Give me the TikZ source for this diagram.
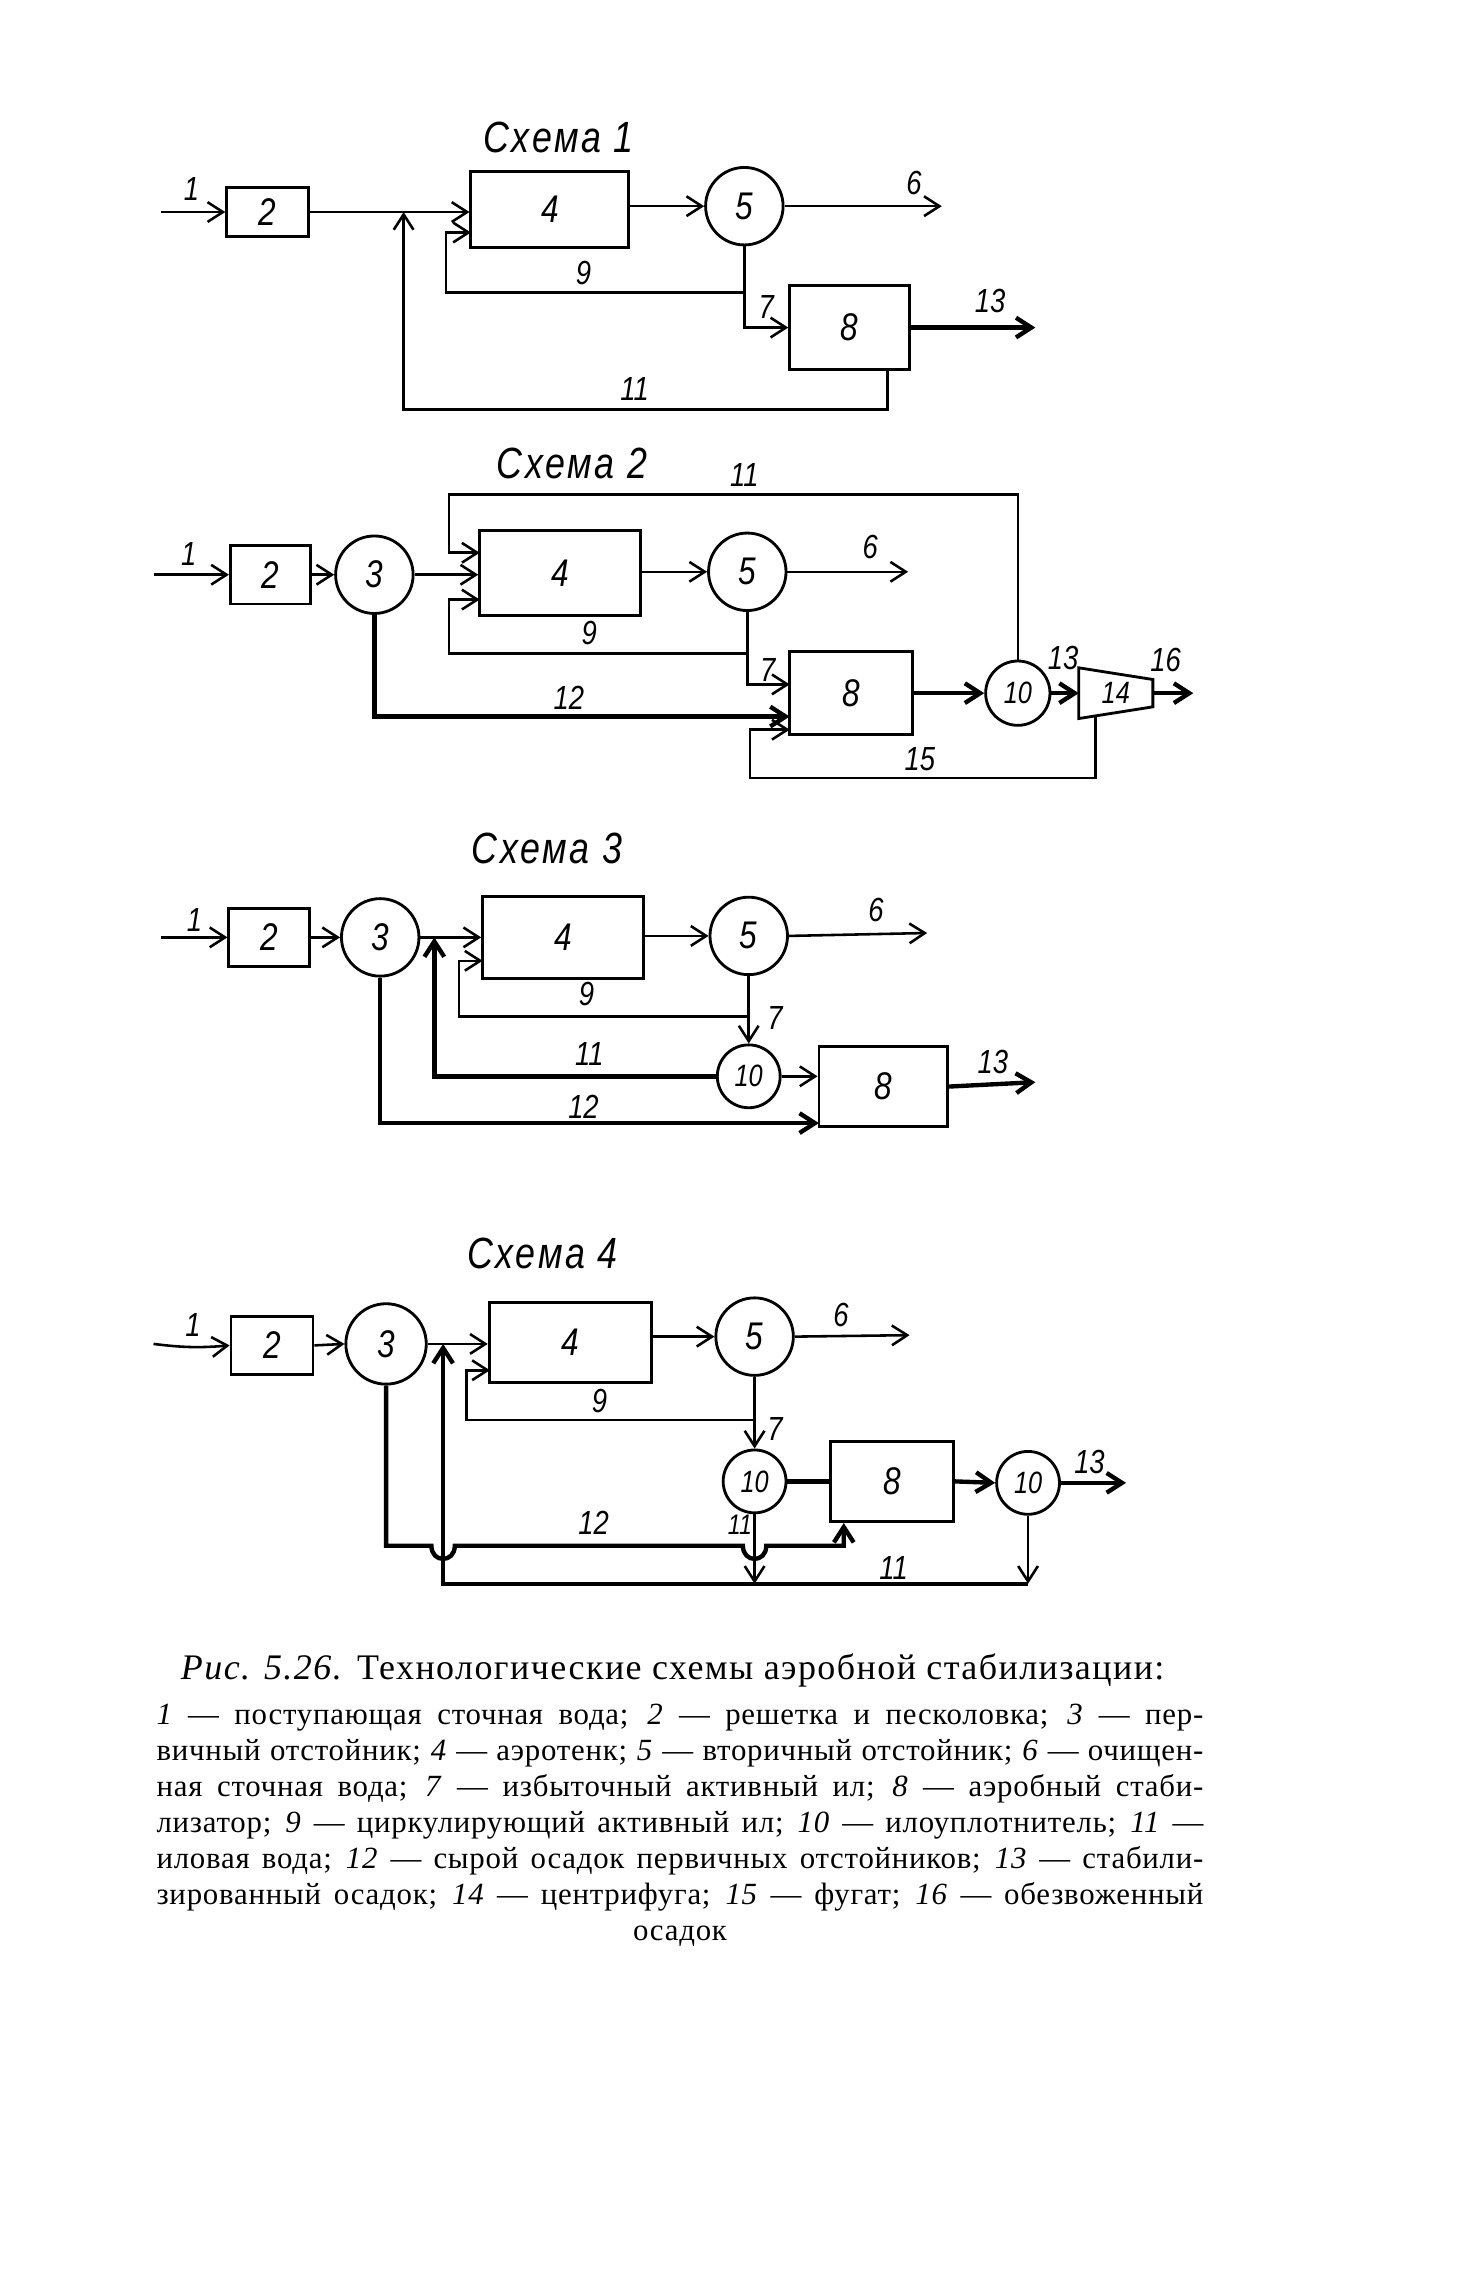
\documentclass[tikz,border=0pt]{standalone}
\usepackage{fontspec}
\setmainfont{Liberation Serif}
\newfontfamily\lblfont[FakeStretch=0.82]{Liberation Sans}
\usetikzlibrary{arrows.meta, positioning}

\begin{document}
\begin{tikzpicture}[x=0.02cm, y=0.02cm,
    blockbox/.style={draw, line width=1.1pt, inner sep=0pt, font=\lblfont\itshape\fontsize{15}{15}\selectfont},
    tankbox/.style={blockbox, circle, minimum size=1.06cm},
    smalltank/.style={blockbox, circle, minimum size=0.86cm, font=\lblfont\itshape\fontsize{12}{12}\selectfont},
    flow/.style={line width=1pt},
    heavy/.style={line width=1.7pt},
    arr/.style={-{Straight Barb[length=2.1mm,width=2.7mm]}},
    numlabel/.style={font=\lblfont\itshape\fontsize{13}{13}\selectfont, inner sep=0pt},
    schemetitle/.style={font=\lblfont\itshape\fontsize{17}{17}\selectfont\addfontfeatures{LetterSpace=6}, inner sep=0pt}]

    \useasboundingbox (0,0) rectangle (1007,-1568);

    % Схема 1
    \node[schemetitle] (TitleOne) at (382,-94) {Схема 1};
    \node[blockbox, minimum width=1.12cm, minimum height=0.68cm] (GridOne) at (183,-145) {2};
    \node[blockbox, minimum width=2.16cm, minimum height=1.04cm] (TankOne) at (376,-143) {4};
    \node[tankbox] (SecOne) at (509,-141) {5};
    \node[blockbox, minimum width=1.64cm, minimum height=1.14cm] (StabOne) at (581,-224) {8};
    \coordinate (InOne) at (110,-145);
    \coordinate (JoinOne) at (276,-145);
    \coordinate (OutSixOne) at (644,-141);
    \coordinate (NineOne) at (305,-200);
    \coordinate (NineInOne) at (322,-159);
    \coordinate (OutThirteenOne) at (708,-224);
    \coordinate (ElevenOne) at (276,-280);
    \draw[flow, arr] (InOne) -- (GridOne.west);
    \draw[flow, arr] (GridOne.east) -- (GridOne.east -| TankOne.west);
    \draw[flow, arr] (TankOne.east |- SecOne.west) -- (SecOne.west);
    \draw[flow, arr] (SecOne.east) -- (OutSixOne);
    \draw[flow, arr] (SecOne.south) |- (StabOne.west);
    \draw[flow, arr] (SecOne.south |- NineOne) -- (NineOne) |- (NineInOne);
    \draw[heavy, arr] (StabOne.east) -- (OutThirteenOne);
    \draw[flow, arr] ([xshift=0.52cm]StabOne.south) |- (ElevenOne) -- (JoinOne);
    \node[numlabel] (LabOneA) at (131,-129) {1};
    \node[numlabel] (LabOneB) at (625,-125) {6};
    \node[numlabel] (LabOneC) at (399,-187) {9};
    \node[numlabel] (LabOneD) at (524,-210) {7};
    \node[numlabel] (LabOneE) at (677,-206) {13};
    \node[numlabel] (LabOneF) at (434,-266) {11};

    % Схема 2
    \node[schemetitle] (TitleTwo) at (391,-317) {Схема 2};
    \node[blockbox, minimum width=1.1cm, minimum height=0.8cm] (GridTwo) at (185,-393) {2};
    \node[tankbox] (PrimTwo) at (256,-393) {3};
    \node[blockbox, minimum width=2.2cm, minimum height=1.16cm] (TankTwo) at (383,-392) {4};
    \node[tankbox] (SecTwo) at (511,-391) {5};
    \node[blockbox, minimum width=1.68cm, minimum height=1.14cm] (StabTwo) at (582,-474) {8};
    \node[smalltank, minimum size=0.88cm] (ThickTwo) at (696,-474) {10};
    \node[inner sep=0pt, minimum width=1cm, minimum height=0.68cm, font=\lblfont\itshape\fontsize{12}{12}\selectfont] (CentrTwo) at (763,-474) {14};
    \draw[line width=1.1pt] (CentrTwo.north west) -- ([yshift=-0.16cm]CentrTwo.north east)
        -- ([yshift=0.16cm]CentrTwo.south east) -- (CentrTwo.south west) -- cycle;
    \coordinate (InTwo) at (105,-393);
    \coordinate (OutSixTwo) at (621,-391);
    \coordinate (ElevenTwo) at (307,-338);
    \coordinate (ElevenInTwo) at (328,-378);
    \coordinate (NineTwo) at (307,-447);
    \coordinate (NineInTwo) at (328,-410);
    \coordinate (SevenInTwo) at (540,-468);
    \coordinate (TwelveInTwo) at (540,-490);
    \coordinate (CentrFootTwo) at (749,-489);
    \coordinate (FifteenTwo) at (513,-532);
    \coordinate (FifteenInTwo) at (540,-499);
    \coordinate (OutSixteenTwo) at (816,-474);
    \draw[flow, arr] (InTwo) -- (GridTwo.west);
    \draw[flow, arr] (GridTwo.east) -- (PrimTwo.west);
    \draw[flow, arr] (PrimTwo.east) -- (PrimTwo.east -| TankTwo.west);
    \draw[flow, arr] (TankTwo.east |- SecTwo.west) -- (SecTwo.west);
    \draw[flow, arr] (SecTwo.east) -- (OutSixTwo);
    \draw[flow, arr] (ThickTwo.north) |- (ElevenTwo) |- (ElevenInTwo);
    \draw[flow, arr] (SecTwo.south |- NineTwo) -- (NineTwo) |- (NineInTwo);
    \draw[flow, arr] (SecTwo.south) |- (SevenInTwo);
    \draw[heavy, arr] (PrimTwo.south) |- (TwelveInTwo);
    \draw[flow, arr] (CentrFootTwo) |- (FifteenTwo) |- (FifteenInTwo);
    \draw[heavy, arr] (StabTwo.east) -- (ThickTwo.west);
    \draw[heavy, arr] (ThickTwo.east) -- (CentrTwo.west);
    \draw[heavy, arr] (CentrTwo.east) -- (OutSixteenTwo);
    \node[numlabel] (LabTwoA) at (129,-379) {1};
    \node[numlabel] (LabTwoB) at (509,-325) {11};
    \node[numlabel] (LabTwoC) at (595,-374) {6};
    \node[numlabel] (LabTwoD) at (403,-433) {9};
    \node[numlabel] (LabTwoE) at (525,-458) {7};
    \node[numlabel] (LabTwoF) at (389,-477) {12};
    \node[numlabel] (LabTwoG) at (727,-450) {13};
    \node[numlabel] (LabTwoH) at (797,-451) {16};
    \node[numlabel] (LabTwoI) at (629,-519) {15};

    % Схема 3
    \node[schemetitle] (TitleThree) at (374,-580) {Схема 3};
    \node[blockbox, minimum width=1.1cm, minimum height=0.8cm] (GridThree) at (184,-641) {2};
    \node[tankbox] (PrimThree) at (260,-641) {3};
    \node[blockbox, minimum width=2.2cm, minimum height=1.12cm] (TankThree) at (385,-641) {4};
    \node[tankbox] (SecThree) at (512,-640) {5};
    \node[smalltank] (ThickThree) at (512,-736) {10};
    \node[blockbox, minimum width=1.76cm, minimum height=1.1cm] (StabThree) at (604,-743) {8};
    \coordinate (InThree) at (110,-641);
    \coordinate (JoinThree) at (297,-641);
    \coordinate (OutSixThree) at (634,-638);
    \coordinate (NineThree) at (314,-695);
    \coordinate (NineInThree) at (330,-657);
    \coordinate (ElevenThree) at (297,-736);
    \coordinate (TwelveInThree) at (560,-768);
    \coordinate (OutThirteenThree) at (708,-740);
    \draw[flow, arr] (InThree) -- (GridThree.west);
    \draw[flow, arr] (GridThree.east) -- (PrimThree.west);
    \draw[flow, arr] (PrimThree.east) -- (PrimThree.east -| TankThree.west);
    \draw[flow, arr] (TankThree.east |- SecThree.west) -- (SecThree.west);
    \draw[flow, arr] (SecThree.east) -- (OutSixThree);
    \draw[flow, arr] (SecThree.south) -- (ThickThree.north);
    \draw[flow, arr] (SecThree.south |- NineThree) -- (NineThree) |- (NineInThree);
    \draw[heavy, arr] (ThickThree.west) -- (ElevenThree) -- (JoinThree);
    \draw[flow, arr] (ThickThree.east) -- (ThickThree.east -| StabThree.west);
    \draw[heavy, arr] (PrimThree.south) |- (TwelveInThree);
    \draw[heavy, arr] (StabThree.east) -- (OutThirteenThree);
    \node[numlabel] (LabThreeA) at (133,-629) {1};
    \node[numlabel] (LabThreeB) at (599,-622) {6};
    \node[numlabel] (LabThreeC) at (401,-680) {9};
    \node[numlabel] (LabThreeD) at (530,-696) {7};
    \node[numlabel] (LabThreeE) at (403,-721) {11};
    \node[numlabel] (LabThreeF) at (399,-757) {12};
    \node[numlabel] (LabThreeG) at (679,-726) {13};

    % Схема 4
    \node[schemetitle] (TitleFour) at (371,-857) {Схема 4};
    \node[blockbox, minimum width=1.12cm, minimum height=0.8cm] (GridFour) at (186,-920) {2};
    \node[tankbox, minimum size=1.1cm] (PrimFour) at (264,-919) {3};
    \node[blockbox, minimum width=2.22cm, minimum height=1.1cm] (TankFour) at (390,-918) {4};
    \node[tankbox] (SecFour) at (516,-914) {5};
    \node[smalltank] (ThickFourA) at (516,-1013) {10};
    \node[blockbox, minimum width=1.68cm, minimum height=1.1cm] (StabFour) at (610,-1013) {8};
    \node[smalltank] (ThickFourB) at (703,-1014) {10};
    \coordinate (InFour) at (105,-919);
    \coordinate (JoinFour) at (303,-919);
    \coordinate (OutSixFour) at (622,-913);
    \coordinate (NineFour) at (319,-971);
    \coordinate (NineInFour) at (335,-937);
    \coordinate (ElevenFour) at (303,-1083);
    \coordinate (ElevenAFour) at (516,-1083);
    \coordinate (ElevenBFour) at (703,-1083);
    \coordinate (HopAFour) at (303,-1057);
    \coordinate (HopBFour) at (516,-1057);
    \coordinate (TwelveTurnFour) at (577,-1057);
    \coordinate (OutThirteenFour) at (770,-1014);
    \draw[flow, arr] (InFour) to[bend right=6] (GridFour.west);
    \draw[flow, arr] (GridFour.east) -- (PrimFour.west);
    \draw[flow, arr] (PrimFour.east) -- (PrimFour.east -| TankFour.west);
    \draw[flow, arr] (TankFour.east |- SecFour.west) -- (SecFour.west);
    \draw[flow, arr] (SecFour.east) -- (OutSixFour);
    \draw[flow, arr] (SecFour.south) -- (ThickFourA.north);
    \draw[flow, arr] (SecFour.south |- NineFour) -- (NineFour) |- (NineInFour);
    \draw[heavy] (ThickFourA.east) -- (StabFour.west);
    \draw[heavy, arr] (StabFour.east) -- (ThickFourB.west);
    \draw[heavy, arr] (ThickFourB.east) -- (OutThirteenFour);
    \draw[flow, arr] (ThickFourA.south) -- (ElevenAFour);
    \draw[flow, arr] (ThickFourB.south) -- (ElevenBFour);
    \draw[heavy, arr] (ElevenBFour) -- (ElevenFour) -- (JoinFour);
    \draw[heavy, arr] (PrimFour.south) |- ([xshift=-0.16cm]HopAFour)
        .. controls +(0,-12) and +(0,-12) .. ([xshift=0.16cm]HopAFour)
        -- ([xshift=-0.16cm]HopBFour)
        .. controls +(0,-12) and +(0,-12) .. ([xshift=0.16cm]HopBFour)
        -- (TwelveTurnFour) -- (TwelveTurnFour |- StabFour.south);
    \node[numlabel] (LabFourA) at (132,-906) {1};
    \node[numlabel] (LabFourB) at (575,-899) {6};
    \node[numlabel] (LabFourC) at (410,-958) {9};
    \node[numlabel] (LabFourD) at (530,-977) {7};
    \node[numlabel] (LabFourE) at (406,-1041) {12};
    \node[numlabel, font=\lblfont\itshape\fontsize{11}{11}\selectfont] (LabFourF) at (506,-1043) {11};
    \node[numlabel] (LabFourG) at (611,-1072) {11};
    \node[numlabel] (LabFourH) at (745,-1000) {13};

    % подпись
    \node[font=\fontsize{14}{16}\selectfont\addfontfeatures{LetterSpace=4}, inner sep=0pt] (FigTitle) at (460,-1142)
        {\textit{Рис. 5.26.} Технологические схемы аэробной стабилизации:};
    \node[below=0.22cm of FigTitle, xshift=0.1cm, text width=14.32cm, align=justify, inner sep=0pt,
          font=\fontsize{12}{14}\selectfont\addfontfeatures{LetterSpace=2.5}] (FigLegend)
        {\parfillskip=0pt
        \textit{1} — поступающая сточная вода; \textit{2} — решетка и песколовка; \textit{3} — пер-\linebreak
        вичный отстойник; \textit{4} — аэротенк; \textit{5} — вторичный отстойник; \textit{6} — очищен-\linebreak
        ная сточная вода; \textit{7} — избыточный активный ил; \textit{8} — аэробный стаби-\linebreak
        лизатор; \textit{9} — циркулирующий активный ил; \textit{10} — илоуплотнитель; \textit{11} —\linebreak
        иловая вода; \textit{12} — сырой осадок первичных отстойников; \textit{13} — стабили-\linebreak
        зированный осадок; \textit{14} — центрифуга; \textit{15} — фугат; \textit{16} — обезвоженный\linebreak
        \hspace*{\fill}осадок\hspace*{\fill}\par};
\end{tikzpicture}
\end{document}
